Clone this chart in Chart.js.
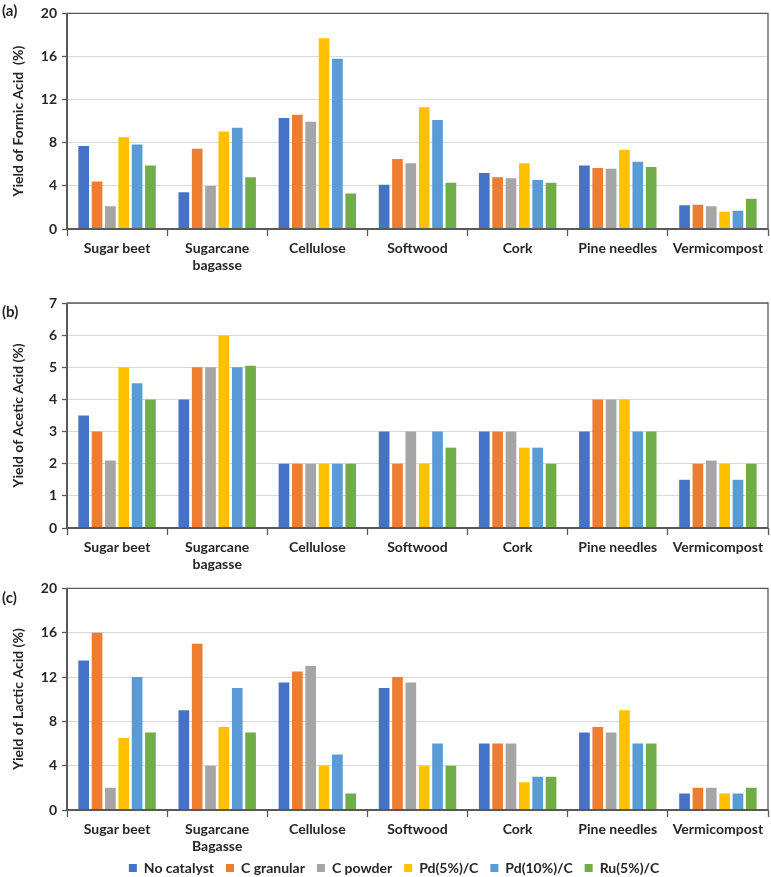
<!DOCTYPE html>
<html><head><meta charset="utf-8">
<script src="https://cdn.jsdelivr.net/npm/chart.js@4"></script>
<style>
html,body{margin:0;padding:0;background:#fff;}
#wrap{position:relative;width:771px;height:877px;overflow:hidden;}
canvas{position:absolute;left:0;}
.plabel{position:absolute;left:2px;font:bold 15px Lato, sans-serif;color:#262626;}
</style></head><body>
<div id="wrap">
<canvas id="ca" width="771" height="285" style="top:0px"></canvas>
<canvas id="cb" width="771" height="290" style="top:285px"></canvas>
<canvas id="cc" width="771" height="302" style="top:575px"></canvas>
<div class="plabel" style="top:1px">(a)</div>
<div class="plabel" style="top:302px">(b)</div>
<div class="plabel" style="top:588px">(c)</div>
</div>
<script>
// ---- categories & series ----
const categoriesAB = ["Sugar beet", ["Sugarcane", "bagasse"], "Cellulose", "Softwood", "Cork", "Pine needles", "Vermicompost"];
const categoriesC  = ["Sugar beet", ["Sugarcane", "Bagasse"], "Cellulose", "Softwood", "Cork", "Pine needles", "Vermicompost"];
const seriesNames = ["No catalyst", "C granular", "C powder", "Pd(5%)/C", "Pd(10%)/C", "Ru(5%)/C"];
const seriesColors = ["#4472C4", "#ED7D31", "#A5A5A5", "#FFC000", "#5B9BD5", "#70AD47"];

// ---- (a) Formic acid yield (%) ----
const formicNoCatalyst = [7.7, 3.4, 10.3, 4.1, 5.2, 5.9, 2.2];
const formicCGranular  = [4.4, 7.45, 10.6, 6.5, 4.8, 5.65, 2.25];
const formicCPowder    = [2.1, 4.0, 9.95, 6.1, 4.7, 5.6, 2.1];
const formicPd5        = [8.5, 9.05, 17.7, 11.3, 6.1, 7.35, 1.6];
const formicPd10       = [7.85, 9.4, 15.8, 10.1, 4.55, 6.25, 1.7];
const formicRu5        = [5.9, 4.8, 3.3, 4.3, 4.3, 5.75, 2.8];

// ---- (b) Acetic acid yield (%) ----
const aceticNoCatalyst = [3.5, 4, 2, 3, 3, 3, 1.5];
const aceticCGranular  = [3, 5, 2, 2, 3, 4, 2];
const aceticCPowder    = [2.1, 5, 2, 3, 3, 4, 2.1];
const aceticPd5        = [5, 6, 2, 2, 2.5, 4, 2];
const aceticPd10       = [4.5, 5, 2, 3, 2.5, 3, 1.5];
const aceticRu5        = [4, 5.05, 2, 2.5, 2, 3, 2];

// ---- (c) Lactic acid yield (%) ----
const lacticNoCatalyst = [13.5, 9, 11.5, 11, 6, 7, 1.5];
const lacticCGranular  = [16, 15, 12.5, 12, 6, 7.5, 2];
const lacticCPowder    = [2, 4, 13, 11.5, 6, 7, 2];
const lacticPd5        = [6.5, 7.5, 4, 4, 2.5, 9, 1.5];
const lacticPd10       = [12, 11, 5, 6, 3, 6, 1.5];
const lacticRu5        = [7, 7, 1.5, 4, 3, 6, 2];

// ---- axis settings ----
const yTicksA = {min: 0, max: 20, step: 4};
const yTicksB = {min: 0, max: 7, step: 1};
const yTicksC = {min: 0, max: 20, step: 4};

const DARK = "#595959", GRID = "#D9D9D9", TXT = "#262626";
const FONT = {family: "Lato, sans-serif", weight: "bold", size: 14};

const framePlugin = {
  id: "frame",
  afterDraw(chart) {
    const a = chart.chartArea, c = chart.ctx;
    c.save();
    c.strokeStyle = DARK;
    c.lineWidth = 1.3;
    c.beginPath();
    c.moveTo(a.left, a.top); c.lineTo(a.right, a.top); c.lineTo(a.right, a.bottom);
    c.stroke();
    c.lineWidth = 2;
    c.beginPath();
    c.moveTo(a.left, a.top); c.lineTo(a.left, a.bottom); c.lineTo(a.right, a.bottom);
    c.stroke();
    c.restore();
  }
};

function makeLegendFix(h, shift) {
  return {
    id: "legendFix",
    beforeLayout(chart) {
      const lg = chart.legend;
      if (lg && !lg._patched) {
        const f = lg.fit;
        lg.fit = function () { f.call(this); this.height = h; };
        lg._patched = true;
      }
    },
    afterLayout(chart) {
      const lg = chart.legend;
      if (lg) { lg.top -= shift; lg.bottom = chart.height; lg.left += 10; lg.right += 10; }
    }
  };
}

function makeChart(id, labels, series, yt, yTitle, padTop, xHeight, legendH, legendShift) {
  const datasets = series.map((d, i) => ({
    label: seriesNames[i],
    data: d,
    backgroundColor: seriesColors[i],
    borderWidth: 0,
    categoryPercentage: 0.8,
    barPercentage: 0.8
  }));
  const plugins = [framePlugin];
  if (legendH) plugins.push(makeLegendFix(legendH, legendShift));
  return new Chart(document.getElementById(id), {
    type: "bar",
    data: {labels, datasets},
    plugins,
    options: {
      responsive: false,
      animation: false,
      layout: {padding: {top: padTop, right: 3, left: 0, bottom: 0}},
      plugins: {
        tooltip: {enabled: false},
        legend: legendH ? {
          display: true,
          position: "bottom",
          labels: {boxWidth: 8, boxHeight: 8, padding: 12, font: FONT, color: TXT}
        } : {display: false}
      },
      scales: {
        x: {
          grid: {display: true, drawOnChartArea: false, drawTicks: true, tickLength: 7, tickColor: DARK, tickWidth: 1.3, offset: true},
          border: {display: false},
          ticks: {font: FONT, color: TXT, padding: 4, maxRotation: 0, autoSkip: false},
          afterFit: s => { s.height = xHeight; }
        },
        y: {
          min: yt.min, max: yt.max,
          grid: {color: GRID, lineWidth: 1, drawTicks: true, tickLength: 5, tickColor: DARK, tickWidth: 1.3},
          border: {display: false},
          ticks: {stepSize: yt.step, font: FONT, color: TXT, padding: 5},
          title: {display: true, text: yTitle, font: FONT, color: TXT, padding: {top: 10, bottom: 0}},
          afterFit: s => { s.width = 67; }
        }
      }
    }
  });
}

makeChart("ca", categoriesAB,
  [formicNoCatalyst, formicCGranular, formicCPowder, formicPd5, formicPd10, formicRu5],
  yTicksA, "Yield of Formic Acid  (%)", 8, 56, 0, 0);
makeChart("cb", categoriesAB,
  [aceticNoCatalyst, aceticCGranular, aceticCPowder, aceticPd5, aceticPd10, aceticRu5],
  yTicksB, "Yield of Acetic Acid (%)", 18, 47, 0, 0);
makeChart("cc", categoriesC,
  [lacticNoCatalyst, lacticCGranular, lacticCPowder, lacticPd5, lacticPd10, lacticRu5],
  yTicksC, "Yield of Lactic Acid (%)", 12, 47, 20, 8);
</script>
</body></html>
